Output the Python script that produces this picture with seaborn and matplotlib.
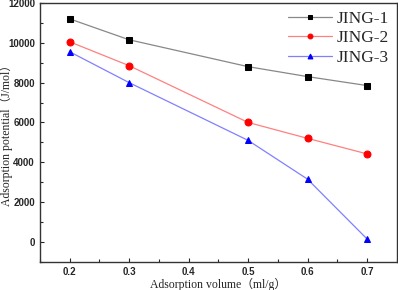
import matplotlib
matplotlib.use("Agg")
import matplotlib.pyplot as plt
import seaborn as sns
import pandas as pd
from matplotlib.ticker import MultipleLocator

# data
volume = [0.2, 0.3, 0.5, 0.6, 0.7]
jing1 = [11200, 10150, 8800, 8300, 7850]
jing2 = [10050, 8850, 6000, 5200, 4420]
jing3 = [9550, 8000, 5100, 3150, 150]
series_names = ["JING-1", "JING-2", "JING-3"]

df = pd.DataFrame({
    "volume": volume * 3,
    "potential": jing1 + jing2 + jing3,
    "sample": [n for n in series_names for _ in volume],
})

sns.set_style("ticks")
plt.rcParams["xtick.direction"] = "in"
plt.rcParams["ytick.direction"] = "in"

fig, ax = plt.subplots(figsize=(3.98, 2.9), dpi=100)

line_colors = ["#888888", "#ff8080", "#8080ff"]
marker_colors = ["black", "red", "blue"]
markers = ["s", "o", "^"]
for name, lc, mc, mk in zip(series_names, line_colors, marker_colors, markers):
    sub = df[df["sample"] == name]
    sns.lineplot(data=sub, x="volume", y="potential", ax=ax, color=lc,
                 marker=mk, markerfacecolor=mc, markeredgecolor=mc,
                 markersize=5, linewidth=0.9, label=name)

ax.set_xlim(0.15, 0.75)
ax.set_ylim(-1000, 12000)
ax.xaxis.set_major_locator(MultipleLocator(0.1))
ax.xaxis.set_minor_locator(MultipleLocator(0.05))
ax.yaxis.set_major_locator(MultipleLocator(2000))
ax.yaxis.set_minor_locator(MultipleLocator(1000))
ax.tick_params(which="major", length=3, width=0.8, labelsize=7)
ax.tick_params(which="minor", length=2, width=0.8)
ax.xaxis.set_major_formatter(matplotlib.ticker.FormatStrFormatter("%.1f"))
for lab in ax.get_xticklabels() + ax.get_yticklabels():
    lab.set_fontfamily("Liberation Sans")
    lab.set_fontweight("bold")

lab_font = dict(family=["Liberation Serif", "Noto Sans CJK SC"], size=8.5)
ax.set_xlabel("Adsorption volume（ml/g）", **lab_font, labelpad=1)
ax.set_ylabel("Adsorption potential（J/mol）", **lab_font)
ax.yaxis.set_label_coords(-0.074, 0.5)

for s in ax.spines.values():
    s.set_linewidth(1.0)
    s.set_color("#333333")

leg = ax.legend(loc="upper right", frameon=False,
                prop=dict(family="Liberation Serif", size=12.5),
                handlelength=2.5, handletextpad=0.3, labelspacing=0.2,
                borderaxespad=0.05, markerscale=0.7)

fig.subplots_adjust(left=0.1, right=0.997, top=0.99, bottom=0.097)
fig.savefig("out.png", dpi=100)
